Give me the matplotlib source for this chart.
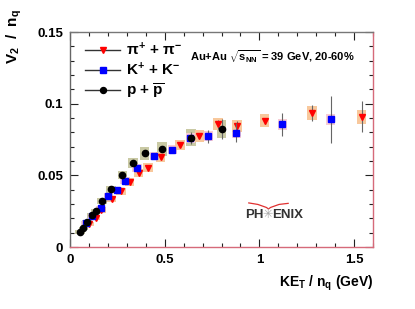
import matplotlib
matplotlib.use("Agg")
import matplotlib.pyplot as plt
from matplotlib.lines import Line2D
from matplotlib.ticker import MultipleLocator, FixedFormatter, FixedLocator

plt.rcParams['font.family'] = ['Liberation Sans', 'DejaVu Sans']
plt.rcParams['mathtext.fontset'] = 'custom'
plt.rcParams['mathtext.rm'] = 'Liberation Sans:bold'
plt.rcParams['mathtext.it'] = 'Liberation Sans:bold'
plt.rcParams['mathtext.bf'] = 'Liberation Sans:bold'
plt.rcParams['mathtext.sf'] = 'Liberation Sans:bold'

# ---- data ----
pi_x = [0.10, 0.135, 0.165, 0.22, 0.27, 0.315, 0.362, 0.411, 0.478, 0.58, 0.683, 0.781, 0.882, 1.028, 1.279, 1.540]
pi_y = [0.016, 0.0205, 0.026, 0.0335, 0.0388, 0.0455, 0.0515, 0.0552, 0.063, 0.0712, 0.0773, 0.0856, 0.0845, 0.0880, 0.0933, 0.0909]
pi_err = [0.0005, 0.0005, 0.0005, 0.0006, 0.0006, 0.0007, 0.0008, 0.0009, 0.001, 0.0012, 0.0015, 0.003, 0.0035, 0.002, 0.0055, 0.011]
pi_sys = [0.0015, 0.0018, 0.002, 0.0022, 0.0025, 0.0028, 0.003, 0.0032, 0.0035, 0.0038, 0.004, 0.0042, 0.0044, 0.0045, 0.0048, 0.0048]

k_x = [0.085, 0.118, 0.162, 0.203, 0.247, 0.291, 0.353, 0.446, 0.540, 0.635, 0.730, 0.878, 1.122, 1.376]
k_y = [0.017, 0.0215, 0.027, 0.0356, 0.0398, 0.0463, 0.0553, 0.0635, 0.068, 0.0763, 0.0773, 0.0798, 0.0856, 0.0891]
k_err = [0.0005, 0.0005, 0.0006, 0.0006, 0.0007, 0.0008, 0.0009, 0.001, 0.0012, 0.0015, 0.0045, 0.0065, 0.008, 0.0165]
k_sys = [0.0014, 0.0016, 0.0018, 0.002, 0.0022, 0.0025, 0.0028, 0.003, 0.0032, 0.0034, 0.0035, 0.0036, 0.0038, 0.004]

p_x = [0.052, 0.070, 0.090, 0.115, 0.135, 0.170, 0.216, 0.276, 0.333, 0.394, 0.485, 0.638, 0.800]
p_y = [0.0105, 0.013, 0.0175, 0.0222, 0.0248, 0.032, 0.0402, 0.0502, 0.0588, 0.0655, 0.0682, 0.0762, 0.0823]
p_err = [0.0004, 0.0004, 0.0005, 0.0005, 0.0005, 0.0006, 0.0007, 0.0008, 0.0009, 0.001, 0.0015, 0.004, 0.0068]
p_sys = [0.0012, 0.0013, 0.0015, 0.0017, 0.0019, 0.0022, 0.0025, 0.003, 0.0035, 0.0045, 0.005, 0.0058, 0.0064]

labels = [r'$\pi^{+}$ + $\pi^{-}$', r'K$^{+}$ + K$^{-}$', r'p + $\overline{\mathrm{p}}$']
xticks = [0, 0.5, 1, 1.5]
xticklabels = ['0', '0.5', '1', '1.5']
yticks = [0, 0.05, 0.1, 0.15]
yticklabels = ['0', '0.05', '0.1', '0.15']

fig = plt.figure(figsize=(4.15, 3.09), dpi=100)
ax = fig.add_axes([70/415, 62/309, 303/415, 215/309])

boxw = 0.05
ax.bar(p_x, [2*s for s in p_sys], bottom=[y - s for y, s in zip(p_y, p_sys)], width=boxw,
       color='#c9c9a4', edgecolor='none', zorder=1)
ax.bar(k_x, [2*s for s in k_sys], bottom=[y - s for y, s in zip(k_y, k_sys)], width=boxw,
       color='#f7ccd4', edgecolor='none', zorder=1.1)
ax.bar(pi_x, [2*s for s in pi_sys], bottom=[y - s for y, s in zip(pi_y, pi_sys)], width=boxw,
       color='#f8c89c', edgecolor='none', zorder=1.2)

ax.errorbar(pi_x, pi_y, yerr=pi_err, fmt='v', color='#ff0000', ms=4.8, mec='#ff0000',
            ecolor='#666666', elinewidth=0.8, capsize=0, zorder=3)
ax.errorbar(k_x, k_y, yerr=k_err, fmt='s', color='#0000ff', ms=4.3, mec='#0000ff',
            ecolor='#666666', elinewidth=0.8, capsize=0, zorder=3.1)
ax.errorbar(p_x, p_y, yerr=p_err, fmt='o', color='#000000', ms=4.5,
            ecolor='#666666', elinewidth=0.8, capsize=0, zorder=3.2)

ax.set_xlim(0, 1.6)
ax.set_ylim(0, 0.15)
ax.xaxis.set_major_locator(FixedLocator(xticks))
ax.xaxis.set_major_formatter(FixedFormatter(xticklabels))
ax.yaxis.set_major_locator(FixedLocator(yticks))
ax.yaxis.set_major_formatter(FixedFormatter(yticklabels))
ax.xaxis.set_minor_locator(MultipleLocator(0.1))
ax.yaxis.set_minor_locator(MultipleLocator(0.01))
ax.tick_params(which='both', direction='in', top=True, right=True, colors='#222222',
               width=0.8)
ax.tick_params(which='major', length=6, labelsize=9.5, pad=5)
ax.tick_params(which='minor', length=3)
for lab in ax.get_xticklabels() + ax.get_yticklabels():
    lab.set_fontweight('bold')
    lab.set_color('black')

ax.spines['left'].set_color('#666666')
ax.spines['top'].set_color('#777777')
ax.spines['bottom'].set_color('#d66a7a')
ax.spines['right'].set_color('#d66a7a')
for s in ax.spines.values():
    s.set_linewidth(1.0)

handles = [
    Line2D([], [], color='#333333', marker='v', ms=4.8, lw=1.0,
           markerfacecolor='#ff0000', markeredgecolor='#ff0000'),
    Line2D([], [], color='#333333', marker='s', ms=4.3, lw=1.0,
           markerfacecolor='#0000ff', markeredgecolor='#0000ff'),
    Line2D([], [], color='#333333', marker='o', ms=4.3, lw=1.0,
           markerfacecolor='#000000', markeredgecolor='#000000'),
]
leg = ax.legend(handles, labels, loc='upper left', bbox_to_anchor=(0.03, 0.985), frameon=False,
                prop={'size': 11, 'weight': 'bold'}, handlelength=2.3, handletextpad=0.4,
                labelspacing=0.18, borderaxespad=0.0)

ax.text(0.94, 0.885, r'Au+Au $\sqrt{s_{\mathrm{NN}}}$ = 39 GeV, 20-60%', transform=ax.transAxes,
        ha='right', va='center', fontsize=8, fontweight='bold')

# PHENIX logo
ax.text(0.578, 0.149, 'PH', transform=ax.transAxes, ha='left', va='center',
        fontsize=9.5, fontweight='bold', color='#333333')
ax.text(0.668, 0.149, 'ENIX', transform=ax.transAxes, ha='left', va='center',
        fontsize=9.5, fontweight='bold', color='#333333')
ax.text(0.653, 0.149, '✳', transform=ax.transAxes, ha='center', va='center',
        fontsize=9, color='#aaaaaa', family=['DejaVu Sans'])
ax.plot([0.59, 0.62, 0.648, 0.655, 0.662, 0.69, 0.72], [0.205, 0.198, 0.184, 0.177, 0.184, 0.198, 0.203],
        transform=ax.transAxes, color='#e03030', lw=0.9, clip_on=False)

ax.text(1.0, -0.17, r'KE$_{\mathregular{T}}$ / n$_{\mathregular{q}}$ (GeV)', transform=ax.transAxes,
        ha='right', va='center', fontsize=10, fontweight='bold')
ax.text(-0.185, 1.105, r'V$_{2}$  /  n$_{\mathrm{q}}$', transform=ax.transAxes, rotation=90,
        ha='center', va='top', fontsize=11, fontweight='bold')

fig.savefig('out.png', dpi=100)
